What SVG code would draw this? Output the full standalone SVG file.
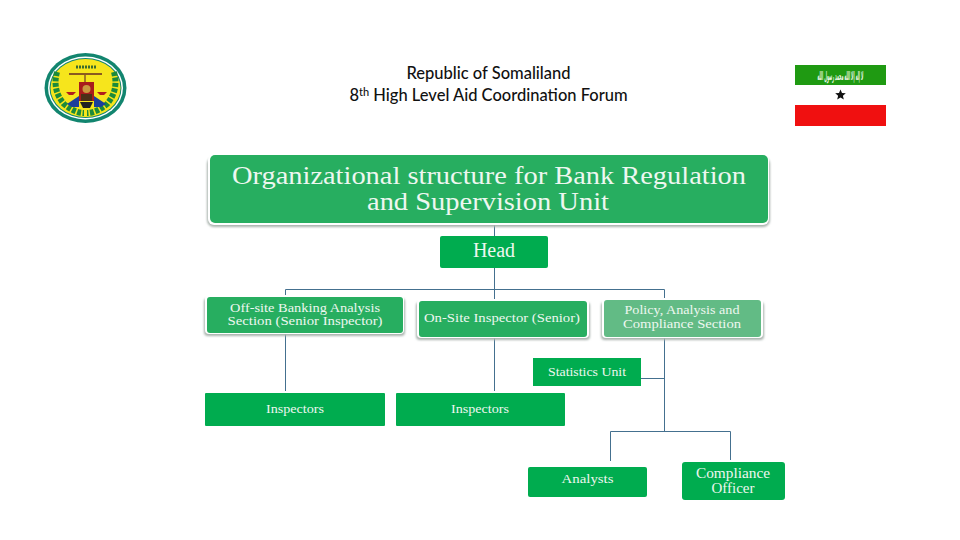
<svg xmlns="http://www.w3.org/2000/svg" width="960" height="540" viewBox="0 0 960 540">
<style>
.hdr{font-family:"Lato","Liberation Sans",sans-serif;font-size:16.500px;font-weight:500;fill:#111;text-anchor:middle}
.t{font-family:"Liberation Serif","DejaVu Serif",serif;fill:#eef7f0;text-anchor:middle}
.sh{fill:#a9b3ad}
.rim{fill:#fff}
.g1{fill:#27ae60}
.g2{fill:#00ac4f}
.g3{fill:#62bb85}
.c{fill:none;stroke:#44708f;stroke-width:1}
</style>
<defs><filter id="s" x="-5%" y="-15%" width="110%" height="130%"><feGaussianBlur stdDeviation="1"/></filter></defs>
<rect width="960" height="540" fill="#fff"/>
<g id="header">
<text class="hdr" x="488.500" y="79">Republic of Somaliland</text>
<text class="hdr" x="488.500" y="101">8<tspan font-size="11" dy="-5">th</tspan><tspan dy="5"> High Level Aid Coordination Forum</tspan></text>
</g>
<g id="emblem">
<ellipse cx="85.500" cy="88" rx="41" ry="35" fill="#12856f"/>
<ellipse cx="85.500" cy="88" rx="37.500" ry="31.500" fill="#fff"/>
<ellipse cx="85.500" cy="88" rx="36" ry="30" fill="#12856f"/>
<ellipse cx="85.500" cy="88" rx="35" ry="29" fill="#f6e51c"/>
<path d="M57 72Q52 90 64 104Q75 113 84 113M114 72Q119 90 107 104Q96 113 87 113" fill="none" stroke="#1c8a3a" stroke-width="6" stroke-dasharray="4 1.500"/>
<path d="M69 74H102" stroke="#8a5a20" stroke-width="2"/>
<path d="M85 74V84" stroke="#8a5a20" stroke-width="1.500"/>
<path d="M76 67H96" stroke="#3a6b2e" stroke-width="3" stroke-dasharray="2 1"/>
<rect x="79" y="82" width="15" height="19" fill="#a81c1c"/>
<circle cx="86.500" cy="89" r="4" fill="#c99a3f"/>
<path d="M81 94H92V101H81Z" fill="#4a3018"/>
<path d="M67 104L79 96V107H72ZM106 104L94 96V107H101Z" fill="#1b3f9c"/>
<path d="M66 92H76L73 95H69ZM97 92H107L104 95H100Z" fill="#b01e1e"/>
<path d="M80 102H93L90 108H83Z" fill="#222"/>
</g>
<g id="flag">
<rect x="795" y="65" width="91" height="20" fill="#1f9a12"/>
<text transform="translate(840.500 80) scale(0.32 1.200)" direction="rtl" font-family="'DejaVu Sans',sans-serif" font-size="10" font-weight="bold" fill="#eef7e8" text-anchor="middle">لا إله إلا الله محمد رسول الله</text>
<path d="M840.500 89.500l1.500 3.500 3.800.3-2.900 2.500.9 3.700-3.300-2-3.300 2 .9-3.700-2.900-2.500 3.800-.3z" fill="#111"/>
<rect x="795" y="105" width="91" height="21" fill="#f01010"/>
</g>
<g id="connectors">
<path class="c" d="M494.500 225V236M494.500 268V289"/>
<path class="c" d="M285.500 296V289.500H664.500V299"/>
<path class="c" d="M494.500 289V300"/>
<path class="c" d="M285.500 334V391"/>
<path class="c" d="M494.500 338V391"/>
<path class="c" d="M664.500 338V431"/>
<path class="c" d="M641 378.500H664"/>
<path class="c" d="M610.500 461V431.500H730.500V460"/>
</g>
<g id="title">
<rect class="sh" x="207" y="157" width="563" height="70" rx="7" filter="url(#s)"/>
<rect class="rim" x="208" y="154" width="561" height="71" rx="6"/>
<rect class="g1" x="210" y="155" width="558" height="68" rx="5"/>
<text class="t" font-size="25" x="489" y="184" textLength="514" lengthAdjust="spacingAndGlyphs">Organizational structure for Bank Regulation</text>
<text class="t" font-size="25" x="488" y="210" textLength="242" lengthAdjust="spacingAndGlyphs">and Supervision Unit</text>
</g>
<g id="head">
<rect class="g2" x="440" y="236" width="108" height="32" rx="2"/>
<text class="t" font-size="20" x="494" y="257">Head</text>
</g>
<g id="offsite">
<rect class="sh" x="204" y="298" width="201" height="38" rx="4" filter="url(#s)"/>
<rect class="rim" x="205" y="295" width="199" height="39" rx="4"/>
<rect class="g1" x="207" y="297" width="196" height="36" rx="3"/>
<text class="t" font-size="12.500" x="305" y="312" textLength="150" lengthAdjust="spacingAndGlyphs">Off-site Banking Analysis</text>
<text class="t" font-size="12.500" x="305" y="325" textLength="155" lengthAdjust="spacingAndGlyphs">Section (Senior Inspector)</text>
</g>
<g id="onsite">
<rect class="sh" x="416" y="302" width="174" height="38" rx="4" filter="url(#s)"/>
<rect class="rim" x="417" y="299" width="172" height="39" rx="4"/>
<rect class="g1" x="419" y="301" width="168" height="36" rx="3"/>
<text class="t" font-size="13" x="502" y="322" textLength="156" lengthAdjust="spacingAndGlyphs">On-Site Inspector (Senior)</text>
</g>
<g id="policy">
<rect class="sh" x="601" y="302" width="163" height="38" rx="4" filter="url(#s)"/>
<rect class="rim" x="602" y="298" width="161" height="40" rx="4"/>
<rect class="g3" x="604" y="300" width="157" height="37" rx="3"/>
<text class="t" font-size="13" x="682" y="314" textLength="115" lengthAdjust="spacingAndGlyphs">Policy, Analysis and</text>
<text class="t" font-size="13" x="682" y="328" textLength="118" lengthAdjust="spacingAndGlyphs">Compliance Section</text>
</g>
<g id="statistics">
<rect class="g2" x="533" y="358" width="108" height="28"/>
<text class="t" font-size="12" x="587" y="376" textLength="78" lengthAdjust="spacingAndGlyphs">Statistics Unit</text>
</g>
<g id="inspectors1">
<rect class="g2" x="205" y="393" width="180" height="33" rx="1"/>
<text class="t" font-size="12" x="295" y="413" textLength="58" lengthAdjust="spacingAndGlyphs">Inspectors</text>
</g>
<g id="inspectors2">
<rect class="g2" x="396" y="393" width="169" height="33" rx="1"/>
<text class="t" font-size="12" x="480" y="413" textLength="58" lengthAdjust="spacingAndGlyphs">Inspectors</text>
</g>
<g id="analysts">
<rect class="g2" x="528" y="467" width="119" height="30" rx="2"/>
<text class="t" font-size="13" x="587.500" y="483" textLength="52" lengthAdjust="spacingAndGlyphs">Analysts</text>
</g>
<g id="compliance">
<rect class="g2" x="682" y="462" width="103" height="38" rx="3"/>
<text class="t" font-size="14" x="733" y="478" textLength="74" lengthAdjust="spacingAndGlyphs">Compliance</text>
<text class="t" font-size="14" x="733" y="493" textLength="43" lengthAdjust="spacingAndGlyphs">Officer</text>
</g>
</svg>
